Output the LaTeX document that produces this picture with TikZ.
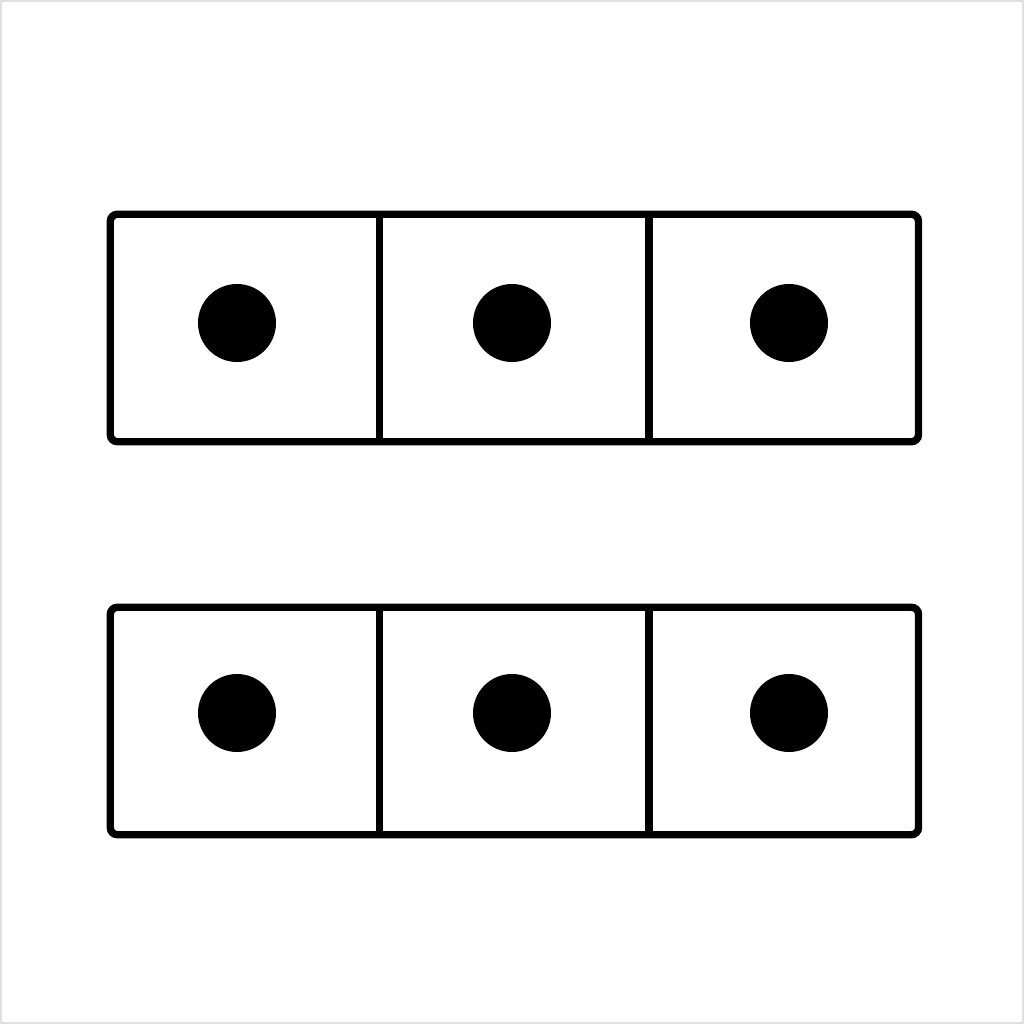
\documentclass[tikz,border=0pt]{standalone}
\usepackage{tikz}
\usetikzlibrary{positioning,fit,calc}
\tikzstyle{cell}=[minimum width=2.68cm, minimum height=2.26cm, inner sep=0pt]
\tikzstyle{spot}=[circle, fill=black, inner sep=0pt, minimum size=0.78cm]
\begin{document}
\begin{tikzpicture}[frame/.style={draw, line width=2.1pt, rounded corners=2pt}]
  \useasboundingbox (0,0) rectangle (10.24,10.24);
  \draw[black!12, line width=0.8pt] (0.01,0.01) rectangle (10.23,10.23);
  \foreach \row/\y/\dy in {1/6.96/7.01, 2/3.03/3.11} {
    \node[cell] (r\row c1) at (2.45,\y) {};
    \node[cell, right=0pt of r\row c1] (r\row c2) {};
    \node[cell, right=0pt of r\row c2] (r\row c3) {};
    \node[frame, fit=(r\row c1)(r\row c3), inner sep=0pt] (row\row) {};
    \draw[line width=2.1pt] (r\row c1.north east) -- (r\row c1.south east);
    \draw[line width=2.1pt] (r\row c2.north east) -- (r\row c2.south east);
    \foreach \c/\x in {1/2.37, 2/5.12, 3/7.89}
      \node[spot] (d\row\c) at (\x,\dy) {};
  }
\end{tikzpicture}
\end{document}
